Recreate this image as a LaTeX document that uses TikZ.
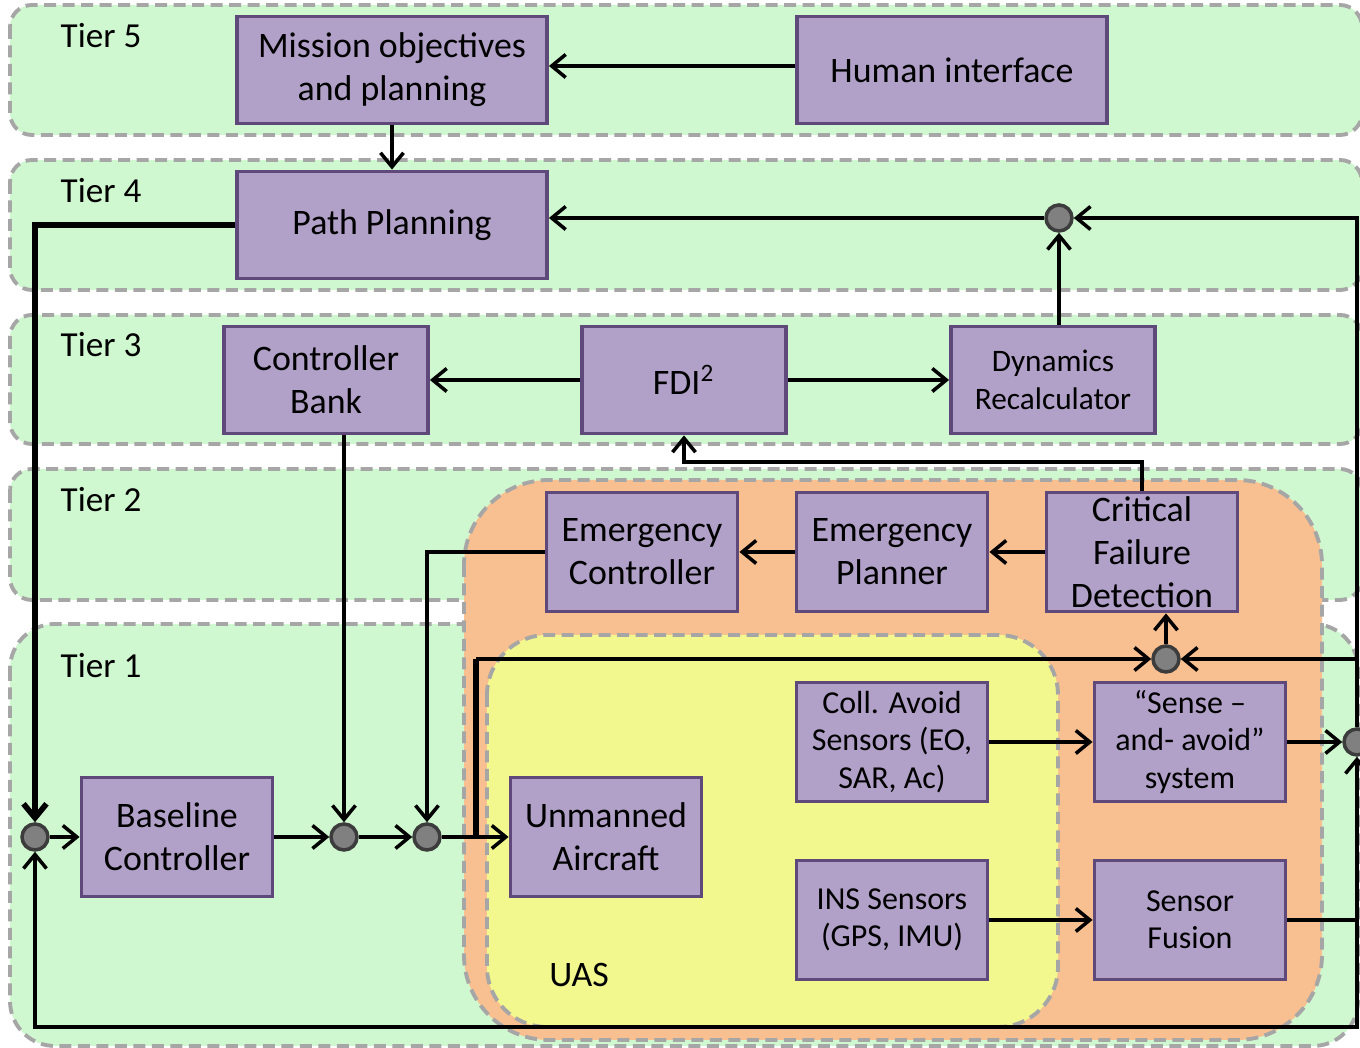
\documentclass[tikz,border=0pt]{standalone}
\usepackage{fontspec}
\setmainfont{Carlito}
\usetikzlibrary{arrows.meta}
\definecolor{tiergreen}{RGB}{208,248,208}
\definecolor{zonegray}{RGB}{166,166,166}
\definecolor{uasorange}{RGB}{248,192,144}
\definecolor{uasyellow}{RGB}{242,247,142}
\definecolor{boxfill}{RGB}{177,160,199}
\definecolor{boxline}{RGB}{95,73,122}
\definecolor{sumfill}{RGB}{128,128,128}
\definecolor{sumline}{RGB}{60,60,60}

\begin{document}
\begin{tikzpicture}[x=0.1mm, y=-0.1mm,
	zone/.style={draw=zonegray, line width=1.1pt, dash pattern=on 1.2mm off 0.65mm},
	tier/.style={zone, fill=tiergreen, rounded corners=2.2mm},
	tierlbl/.style={font=\fontsize{10}{12}\selectfont, inner sep=0pt},
	blk/.style={draw=boxline, fill=boxfill, line width=1.1pt, align=center, inner sep=0pt,
		minimum width=19.1mm, minimum height=11.9mm, font=\fontsize{10.2}{12.2}\selectfont},
	wide/.style={blk, minimum width=31mm, minimum height=10.7mm},
	mid/.style={blk, minimum width=20.4mm, minimum height=10.7mm},
	small/.style={font=\fontsize{9.1}{10.6}\selectfont},
	sum/.style={circle, draw=sumline, fill=sumfill, line width=1pt, minimum size=2.6mm, inner sep=0pt},
	arr/.style={-{Straight Barb[length=1.4mm,width=2.3mm]}, line width=1pt},
	bold/.style={line width=1.6pt}]
	\useasboundingbox (0,0) rectangle (1360,1048);
	\draw[tier] (10,5) rectangle (1362,135);
	\draw[tier] (10,160) rectangle (1362,290);
	\draw[tier] (10,315) rectangle (1362,444);
	\draw[tier] (10,469) rectangle (1362,600);
	\draw[tier, rounded corners=4.5mm] (10,624) rectangle (1358,1046);
	\draw[zone, fill=uasorange, rounded corners=8.5mm] (464,480) rectangle (1322,1040);
	\draw[zone, fill=uasyellow, rounded corners=6mm] (487,635) rectangle (1058,1027);

	\node[tierlbl] (tfive) at (101,36) {Tier 5};
	\node[tierlbl] (tfour) at (101,191) {Tier 4};
	\node[tierlbl] (tthree) at (101,345) {Tier 3};
	\node[tierlbl] (ttwo) at (101,500) {Tier 2};
	\node[tierlbl] (tone) at (101,666) {Tier 1};
	\node[tierlbl, font=\fontsize{10.2}{12}\selectfont] (uas) at (579,975) {UAS};

	\node[wide] (mission) at (392,70) {Mission objectives\\and planning};
	\node[wide] (human) at (952,70) {Human interface};
	\node[wide] (path) at (392,225) {Path Planning};
	\node[mid] (cbank) at (326,380) {Controller\\Bank};
	\node[mid] (fdi) at (684,380) {FDI\textsuperscript{2}};
	\node[mid, font=\fontsize{8.9}{10.8}\selectfont] (dyn) at (1053,380) {Dynamics\\Recalculator};
	\node[blk] (ec) at (642,552) {Emergency\\Controller};
	\node[blk] (ep) at (892,552) {Emergency\\Planner};
	\node[blk] (cfd) at (1142,552) {Critical\\Failure\\Detection};
	\node[blk] (base) at (177,837) {Baseline\\Controller};
	\node[blk] (ua) at (606,837) {Unmanned\\Aircraft};
	\node[blk, small] (coll) at (892,742) {Coll. Avoid\\Sensors (EO,\\SAR, Ac)};
	\node[blk, small] (ins) at (892,920) {INS Sensors\\(GPS, IMU)};
	\node[blk, small] (saa) at (1190,742) {“Sense –\\and- avoid”\\system};
	\node[blk, small] (fusion) at (1190,920) {Sensor\\Fusion};

	\node[sum] (jtop) at (1059,218) {};
	\node[sum] (jcfd) at (1166,659) {};
	\node[sum] (jsa) at (1357,742) {};
	\node[sum] (jone) at (35,837) {};
	\node[sum] (jtwo) at (344,837) {};
	\node[sum] (jthree) at (427,837) {};
	\coordinate (loopcorner) at (1357,1027);
	\coordinate (tap) at (476,837);
	\coordinate (fdiret) at (1142,462);

	\draw[arr] (human.west |- 0,66) -- (mission.east |- 0,66);
	\draw[arr] (mission.south) -- (path.north);
	\draw[arr] (jtop.west) -- (jtop.west -| path.east);
	\draw[arr] (jtop |- dyn.north) -- (jtop.south);
	\draw[arr] (jsa.north) -- (jsa |- jtop) -- (jtop.east);
	\draw[arr] (jsa |- jcfd) -- (jcfd.east);
	\draw[arr] (fusion.east) -- (fusion.east -| jsa) -- (jsa.south);
	\draw[arr] (fusion.east -| jsa) -- (loopcorner) -- (loopcorner -| jone) -- (jone.south);
	\draw[arr, bold] (path.west) -| (jone.north);
	\draw[arr] (jone.east) -- (base.west);
	\draw[arr] (base.east) -- (jtwo.west);
	\draw[arr] (jtwo |- cbank.south) -- (jtwo.north);
	\draw[arr] (jtwo.east) -- (jthree.west);
	\draw[arr] (ec.west) -| (jthree.north);
	\draw[arr] (jthree.east) -- (ua.west);
	\draw[bold] (tap) -- (tap |- jcfd);
	\draw[arr] (tap |- jcfd) -- (jcfd.west);
	\draw[arr] (jcfd.north) -- (jcfd |- cfd.south);
	\draw[arr] (cfd.north) -- (fdiret) -| (fdi.south);
	\draw[arr] (fdi.west) -- (cbank.east);
	\draw[arr] (fdi.east) -- (dyn.west);
	\draw[arr] (ep.west) -- (ec.east);
	\draw[arr] (cfd.west) -- (ep.east);
	\draw[arr] (coll.east) -- (saa.west);
	\draw[arr] (ins.east) -- (fusion.west);
	\draw[arr] (saa.east) -- (jsa.west);
\end{tikzpicture}
\end{document}
